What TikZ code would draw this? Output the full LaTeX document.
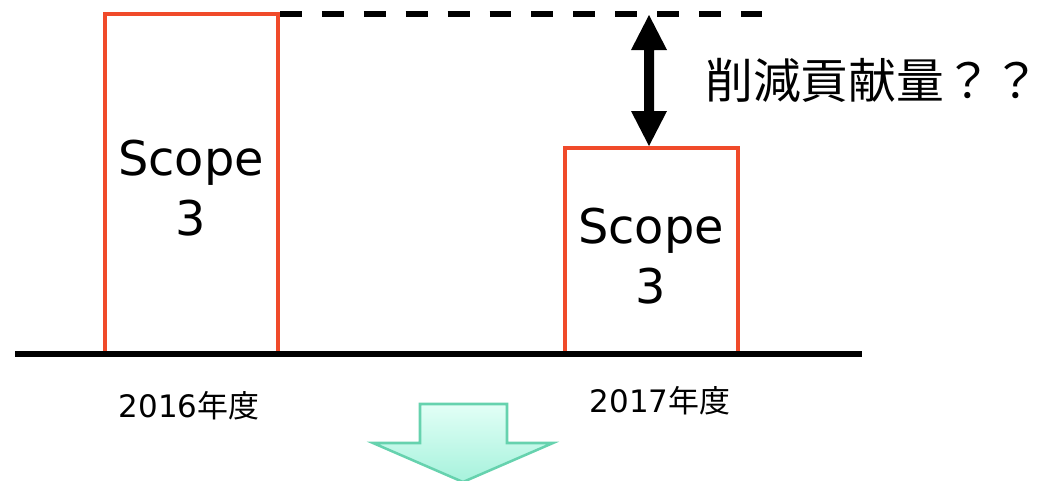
\documentclass[tikz,border=0pt]{standalone}
\usepackage{fontspec}
\setmainfont{DejaVu Sans}
\newfontfamily\jp{Noto Sans CJK JP}
\definecolor{barred}{HTML}{F04A2A}
\definecolor{mintline}{HTML}{66D2AE}
\definecolor{minttop}{HTML}{E2FFF6}
\definecolor{mintbot}{HTML}{A6F2DC}
\begin{document}
\begin{tikzpicture}[x=0.025cm,y=-0.025cm,
  bar/.style={draw=barred,line width=2.85pt},
  scopetext/.style={font=\fontsize{34}{42.5}\selectfont,align=center,inner sep=0},
  yearlabel/.style={font=\fontsize{22}{26}\selectfont,inner sep=0}]
\useasboundingbox (0,0) rectangle (1050,480);
% boxes
\coordinate (b1bl) at (105,354);
\coordinate (b1tr) at (278,14);
\coordinate (b2bl) at (565,354);
\coordinate (b2tr) at (738,148);
\draw[bar,line join=miter] (b1bl) |- (b1tr) -- (278,354);
\draw[bar,line join=miter] (b2bl) |- (b2tr) -- (738,354);
% axis
\coordinate (axl) at (15,354);
\coordinate (axr) at (862,354);
\draw[line width=3.9pt] (axl) -- (axr);
% dashed reference line
\coordinate (dl) at (280,14);
\coordinate (dr) at (762,14);
\draw[line width=3.56pt,dash pattern=on 15.6pt off 14.2pt] (dl) -- (dr);
% double arrow
\fill (649,15) -- (667,50) -- (654,50) -- (654,111) -- (667,111) -- (649,146) -- (631,111) -- (644,111) -- (644,50) -- (631,50) -- cycle;
\node[anchor=west,inner sep=0,font=\jp\fontsize{34}{40}\selectfont] (lbl) at (705,80) {削減貢献量？？};
% box texts
\node[scopetext] (s1) at (191,188) {Scope\\3};
\node[scopetext] (s2) at (651,256) {Scope\\3};
% year labels
\node[yearlabel] (y1) at (189,406) {2016{\jp 年度}};
\node[yearlabel] (y2) at (660,401) {2017{\jp 年度}};
% green arrow
\draw[draw=mintline,line width=1.8pt,line join=miter,top color=minttop,bottom color=mintbot]
  (420,404) -- (507,404) -- (507,443) -- (553,443) -- (463,482) -- (373,443) -- (420,443) -- cycle;
\end{tikzpicture}
\end{document}
